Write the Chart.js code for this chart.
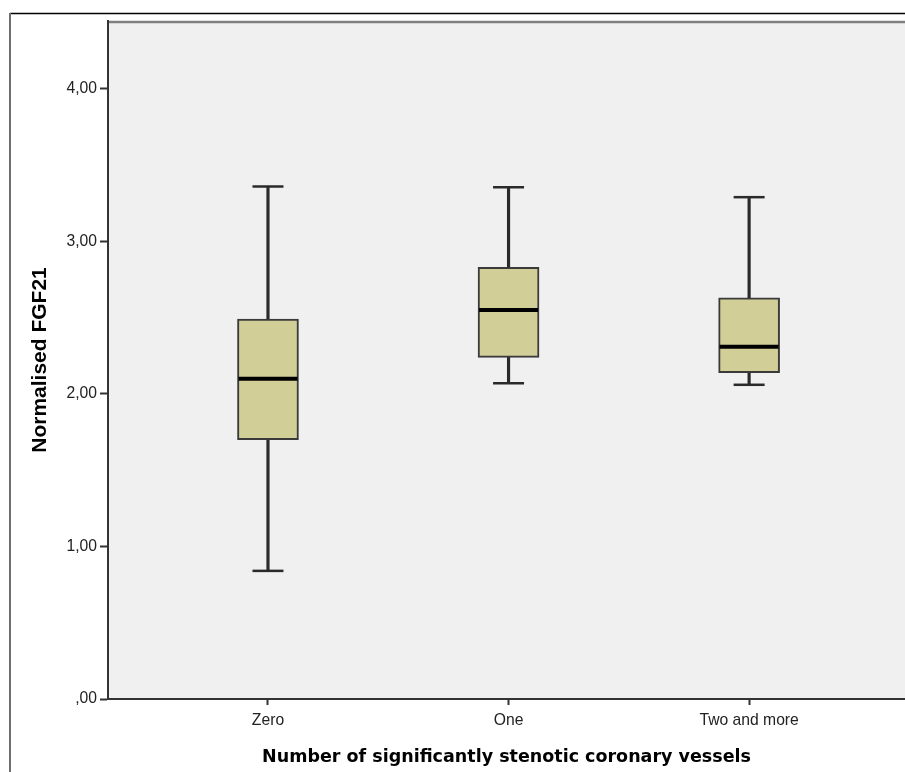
<!DOCTYPE html>
<html>
<head>
<meta charset="utf-8">
<script src="https://cdn.jsdelivr.net/npm/chart.js@4/dist/chart.umd.min.js"></script>
<style>
  html, body { margin: 0; padding: 0; background: #ffffff; overflow: hidden; }
  #wrap { width: 905px; height: 772px; position: relative; }
</style>
</head>
<body>
<div id="wrap"><canvas id="c" width="905" height="772"></canvas></div>
<script>
// ---- data ----
const categories   = ['Zero', 'One', 'Two and more'];
const whiskerLow   = [0.84, 2.07, 2.06];
const quartile1    = [1.70, 2.24, 2.14];
const medians      = [2.10, 2.55, 2.31];
const quartile3    = [2.49, 2.83, 2.63];
const whiskerHigh  = [3.36, 3.355, 3.29];
const yTickValues  = [0, 1, 2, 3, 4];
const yTickLabels  = [',00', '1,00', '2,00', '3,00', '4,00'];
const yTitle = 'Normalised FGF21';
const xTitle = 'Number of significantly stenotic coronary vessels';

const idx = categories.map((_, i) => i);

const framePlugin = {
  id: 'frame',
  beforeDraw(chart) {
    const ctx = chart.ctx;
    const a = chart.chartArea;
    ctx.save();
    // outer frame
    ctx.strokeStyle = '#000000';
    ctx.lineWidth = 1.5;
    ctx.beginPath();
    ctx.moveTo(10, 13.5); ctx.lineTo(905, 13.5);
    ctx.stroke();
    ctx.strokeStyle = '#6e6e6e';
    ctx.lineWidth = 2;
    ctx.beginPath();
    ctx.moveTo(10, 13); ctx.lineTo(10, 772);
    ctx.stroke();
    // plot background
    ctx.fillStyle = '#f0f0f0';
    ctx.fillRect(a.left, a.top, a.right - a.left, a.bottom - a.top);
    // top border of plot area
    ctx.strokeStyle = '#808080';
    ctx.lineWidth = 2.5;
    ctx.beginPath();
    ctx.moveTo(a.left, a.top + 1); ctx.lineTo(a.right, a.top + 1);
    ctx.stroke();
    ctx.restore();
  }
};

new Chart(document.getElementById('c'), {
  type: 'bar',
  data: {
    datasets: [
      {
        label: 'lower whisker',
        data: idx.map(i => ({ x: i, y: [whiskerLow[i], quartile1[i]] })),
        backgroundColor: '#2a2a2a',
        borderWidth: 0,
        barThickness: 2.5,
        grouped: false,
        order: 3
      },
      {
        label: 'upper whisker',
        data: idx.map(i => ({ x: i, y: [quartile3[i], whiskerHigh[i]] })),
        backgroundColor: '#2a2a2a',
        borderWidth: 0,
        barThickness: 2.5,
        grouped: false,
        order: 3
      },
      {
        label: 'box',
        data: idx.map(i => ({ x: i, y: [quartile1[i], quartile3[i]] })),
        backgroundColor: '#d1ce98',
        borderColor: '#3a3a3a',
        borderWidth: 2,
        borderSkipped: false,
        barThickness: 61,
        grouped: false,
        order: 2
      },
      {
        type: 'scatter',
        label: 'caps',
        data: idx.flatMap(i => [{ x: i, y: whiskerLow[i] }, { x: i, y: whiskerHigh[i] }]),
        pointStyle: 'line',
        radius: 15.5,
        borderWidth: 2.5,
        borderColor: '#2a2a2a',
        backgroundColor: '#2a2a2a',
        order: 1
      },
      {
        type: 'scatter',
        label: 'median',
        data: idx.map(i => ({ x: i, y: medians[i] })),
        pointStyle: 'line',
        radius: 29.5,
        borderWidth: 4,
        borderColor: '#000000',
        backgroundColor: '#000000',
        order: 0
      }
    ]
  },
  options: {
    responsive: false,
    animation: false,
    events: [],
    layout: { autoPadding: false, padding: { top: 21, right: 0, left: 0, bottom: 0 } },
    plugins: { legend: { display: false }, tooltip: { enabled: false } },
    scales: {
      x: {
        type: 'linear',
        min: -0.665,
        max: 2.648,
        offset: false,
        afterBuildTicks: s => { s.ticks = idx.map(v => ({ value: v })); },
        afterFit: s => { s.height = 73; s.paddingLeft = 0; s.paddingRight = 0; },
        ticks: {
          callback: v => categories[v],
          color: '#222222',
          font: { family: '"Liberation Sans", Arial, sans-serif', size: 15.7 },
          padding: 6,
          maxRotation: 0,
          autoSkip: false
        },
        grid: { display: true, drawOnChartArea: false, offset: false, tickLength: 6, tickColor: '#333333', tickWidth: 2 },
        border: { display: true, color: '#333333', width: 2 },
        title: {
          display: true,
          text: xTitle,
          color: '#000000',
          font: { family: '"DejaVu Sans", sans-serif', size: 17.5, weight: 'bold' },
          padding: { top: 0, bottom: 4.5 }
        }
      },
      y: {
        type: 'linear',
        min: 0,
        max: 4.445,
        afterBuildTicks: s => { s.ticks = yTickValues.map(v => ({ value: v })); },
        afterFit: s => { s.width = 108; s.paddingTop = 0; s.paddingBottom = 0; },
        ticks: {
          callback: (v) => yTickLabels[yTickValues.indexOf(v)],
          color: '#222222',
          font: { family: '"Liberation Sans", Arial, sans-serif', size: 15.7 },
          padding: 3
        },
        grid: { display: true, drawOnChartArea: false, tickLength: 8, tickColor: '#333333', tickWidth: 2 },
        border: { display: true, color: '#333333', width: 2 },
        title: {
          display: true,
          text: yTitle,
          color: '#000000',
          font: { family: '"Liberation Sans", Arial, sans-serif', size: 21, weight: 'bold' },
          padding: { top: 28, bottom: 0 }
        }
      }
    }
  },
  plugins: [framePlugin]
});
</script>
</body>
</html>
